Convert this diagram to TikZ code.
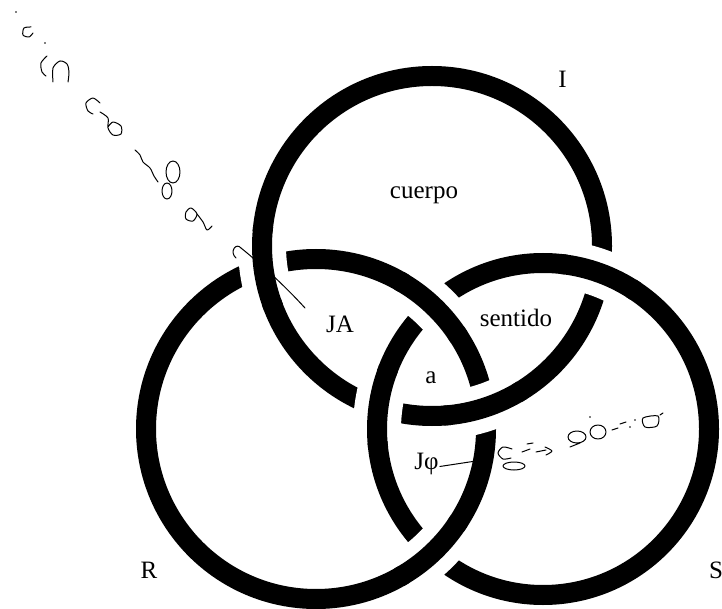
\documentclass[tikz,border=0pt]{standalone}
\usepackage{fontspec}
\setmainfont{Liberation Serif}

\begin{document}
\begin{tikzpicture}[
  x=1pt, y=1pt,
  ring/.style={draw=black, line width=20pt},
  gap/.style={draw=white, line width=48pt},
  lbl/.style={font=\fontsize{25}{30}\selectfont, inner sep=1pt, anchor=base},
  pen/.style={line width=1pt, line cap=round, line join=round}
]
\useasboundingbox (0,0) rectangle (722,608);
\coordinate (I) at (432,362);
\coordinate (R) at (316,179);
\coordinate (S) at (543,179);
\draw[ring] (I) circle[radius=170];
\draw[ring] (R) circle[radius=170];
\draw[ring] (S) circle[radius=166];
% strand on top at each crossing
\foreach \c/\r/\a in {I/170/187.2, I/170/288, S/166/70, S/166/172.5, R/170/46.7, R/170/-46.7}{
  \draw[gap] ([shift={(\a-12:\r)}]\c) arc[start angle=\a-12, end angle=\a+12, radius=\r];
  \draw[ring] ([shift={(\a-14:\r)}]\c) arc[start angle=\a-14, end angle=\a+14, radius=\r];
}

\node[lbl] (cuerpo) at (424,409.5) {cuerpo};
\node[lbl] (sentido) at (516,281) {sentido};
\node[lbl] (ja) at (340,275) {JA};
\node[lbl] (agal) at (431,225) {a};
\node[lbl] (jphi) at (426.5,138.5) {Jφ};
\node[lbl] (lblI) at (562.5,520) {I};
\node[lbl] (lblR) at (149,30) {R};
\node[lbl] (lblS) at (716,30) {S};

% pointers
\coordinate (jphitip) at (476,147);
\draw[pen] ([yshift=3pt]jphi.base east) -- (jphitip);
\coordinate (hook) at (241,360);
\coordinate (jatip) at (305,300);
\draw[pen] (hook) .. controls (236,366) and (229,356) .. (236,350);
\draw[pen] (hook) .. controls (262,343) and (285,322) .. (jatip);

% handwriting, upper left
\fill (16,596) circle[radius=0.8] (45,565) circle[radius=0.8];
\draw[pen] plot[smooth] coordinates {(31,581) (24,580) (23,573) (29,571) (33,575)};
\draw[pen] plot[smooth] coordinates {(47,552) (41,545) (42,536) (46,532)};
\draw[pen] plot[smooth] coordinates {(53,526) (53,540) (60,547) (67,544) (69,536) (68,526)};
\draw[pen] plot[smooth] coordinates {(100,505) (93,510) (86,505) (88,497) (93,494)};
\draw[pen] plot[smooth] coordinates {(100,496) (108,490) (108,480) (113,473) (121,474) (121,482) (113,486) (108,481)};
\draw[pen] plot[smooth] coordinates {(135,458) (140,453) (143,446) (150,440) (154,432) (158,426)};
\draw[pen] (173,436) ellipse[x radius=7, y radius=11] (167,417) ellipse[x radius=5, y radius=8];
\draw[pen] plot[smooth cycle] coordinates {(186,396) (191,400) (197,394) (193,387) (186,389)};
\draw[pen] plot[smooth] coordinates {(197,394) (203,386) (207,378) (212,382)};

% handwriting, right
\draw[pen] plot[smooth] coordinates {(512,159) (503,161) (498,155) (503,149) (511,150)};
\draw[pen] (514,142) ellipse[x radius=11, y radius=4];
\draw[pen] (522,156) -- (530,159) (527,164) -- (533,165) (536,156) -- (546,158);
\draw[pen] plot[smooth] coordinates {(545,161) (552,157) (546,153)};
\draw[pen] (577,171) ellipse[x radius=9, y radius=6] (570,161) -- (580,165);
\draw[pen] (598,176) ellipse[x radius=8, y radius=7];
\fill (590,191) circle[radius=0.8] (630,181) circle[radius=0.8] (635,188) circle[radius=0.8];
\draw[pen] (612,178) -- (618,180) (620,184) -- (626,186) (660,193) -- (663,195);
\draw[pen] plot[smooth cycle] coordinates {(643,190) (658,192) (657,182) (645,181)};
\end{tikzpicture}
\end{document}
